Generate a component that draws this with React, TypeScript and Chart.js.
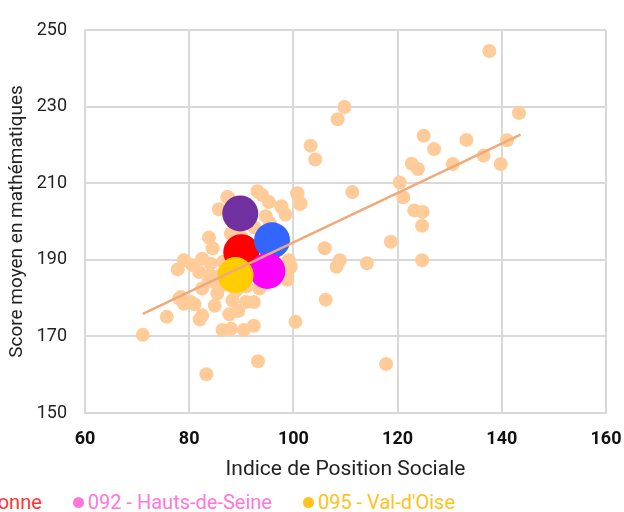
import React, { useEffect, useRef } from "react";
import { Chart, registerables } from "chart.js";

Chart.register(...registerables);

// IPS (Indice de Position Sociale) of each département
const ipsValues: number[] = [
  137.6, 143.3, 109.8, 108.5, 103.3, 104.2, 125.0, 127.0, 133.2, 141.0,
  136.5, 139.8, 130.6, 122.7, 123.9, 120.4, 121.1, 123.2, 124.8, 124.7,
  124.7, 118.7, 111.3, 100.8, 101.2, 106.0, 108.9, 108.3, 114.1, 97.7,
  98.5, 106.2, 100.4, 98.8, 93.2, 83.3, 117.8, 92.4, 90.5, 88.0,
  86.4, 92.4, 89.4, 87.7, 84.9, 71.1, 75.7, 82.0, 82.5, 79.0,
  81.0, 78.1, 80.3, 77.8, 80.6, 81.9, 83.8, 82.5, 85.4, 88.3,
  87.5, 85.7, 88.0, 83.8, 84.5, 79.0, 82.5, 84.1, 93.1, 94.0,
  95.3, 97.7, 100.7, 101.4, 94.7, 99.1, 99.5, 98.8, 87.3, 90.9,
  86.0, 87.0, 89.0, 91.0, 86.5, 92.0, 88.5, 85.0, 93.5, 90.0,
  97.0, 95.5, 92.5, 78.4, 84.0,
];
// Score moyen en mathématiques of each département
const scoreValues: number[] = [
  244.5, 228.3, 229.9, 226.7, 219.8, 216.2, 222.4, 218.9, 221.3, 221.2,
  217.2, 215.0, 215.0, 215.1, 213.7, 210.2, 206.3, 202.9, 202.5, 198.9,
  189.9, 194.7, 207.7, 207.4, 204.6, 193.0, 189.9, 188.2, 189.1, 204.0,
  201.8, 179.6, 173.8, 184.8, 163.5, 160.1, 162.8, 172.8, 171.7, 172.0,
  171.7, 179.0, 176.6, 175.8, 178.0, 170.4, 175.1, 174.4, 175.5, 178.5,
  178.4, 179.9, 179.0, 187.5, 188.6, 186.8, 184.6, 182.5, 181.2, 179.4,
  206.3, 203.2, 196.8, 195.8, 193.0, 189.9, 190.3, 189.0, 207.9, 206.9,
  205.1, 203.8, 207.3, 204.7, 201.4, 189.9, 188.2, 185.7, 206.4, 179.0,
  186.0, 183.5, 182.0, 183.0, 189.5, 187.0, 188.5, 184.0, 182.5, 196.0,
  192.5, 199.5, 198.5, 180.3, 186.0,
];

// Highlighted départements
const highlightNames: string[] = [
  "077 - Seine-et-Marne",
  "078 - Yvelines",
  "091 - Essonne",
  "092 - Hauts-de-Seine",
  "095 - Val-d'Oise",
];
const highlightIps: number[] = [89.8, 95.9, 90.0, 95.0, 88.9];
const highlightScores: number[] = [202.1, 195.1, 192.0, 187.1, 186.0];
const highlightColors: string[] = ["#7030A0", "#3366FF", "#FF0000", "#FF00FF", "#FFCC00"];
const legendTextColors: string[] = ["#9c6cc0", "#6f8fff", "#ff3333", "#ff77dd", "#ffc21a"];
const highlightOrder: number[] = [5, 3, 4, 2, 1];

// Trend line
const trendIps: number[] = [71.1, 143.6];
const trendScores: number[] = [175.9, 222.7];

const xTicks: number[] = [60, 80, 100, 120, 140, 160];
const yTicks: number[] = [150, 170, 190, 210, 230, 250];

const FONT = "Roboto, 'Noto Sans', sans-serif";

export default function App() {
  const canvasRef = useRef<HTMLCanvasElement | null>(null);

  useEffect(() => {
    document.body.style.margin = "0";
    const canvas = canvasRef.current;
    if (!canvas) return;

    const datasets: any[] = [];
    datasets.push({
      type: "line",
      label: "Tendance",
      data: trendIps.map((x, i) => ({ x, y: trendScores[i] })),
      borderColor: "#EFA97A",
      borderWidth: 2.5,
      pointRadius: 0,
      fill: false,
      order: 0,
    });
    highlightNames.forEach((name, i) => {
      datasets.push({
        type: "scatter",
        label: name,
        data: [{ x: highlightIps[i], y: highlightScores[i] }],
        backgroundColor: highlightColors[i],
        borderWidth: 0,
        pointRadius: 18,
        order: highlightOrder[i],
      });
    });
    datasets.push({
      type: "scatter",
      label: "Départements",
      data: ipsValues.map((x, i) => ({ x, y: scoreValues[i] })),
      backgroundColor: "#FFCC99",
      borderWidth: 0,
      pointRadius: 7,
      order: 10,
    });

    const chart = new Chart(canvas, {
      type: "scatter",
      data: { datasets },
      options: {
        animation: false,
        responsive: false,
        maintainAspectRatio: false,
        layout: { padding: { left: 0, right: 16, top: 30, bottom: 0 } },
        plugins: {
          legend: { display: false },
          tooltip: { enabled: false },
        },
        scales: {
          x: {
            type: "linear",
            min: xTicks[0],
            max: xTicks[xTicks.length - 1],
            afterBuildTicks: (scale: any) => {
              scale.ticks = xTicks.map((v) => ({ value: v }));
            },
            afterFit: (scale: any) => {
              scale.height = 72;
              scale.paddingLeft = 0;
              scale.paddingRight = 0;
            },
            grid: { color: "#d9d9d9", lineWidth: 2, drawTicks: false },
            border: { color: "#d9d9d9", width: 2 },
            ticks: {
              padding: 16,
              color: "#111",
              font: { family: FONT, size: 18, weight: "bold" },
            },
            title: {
              display: true,
              text: "Indice de Position Sociale",
              color: "#222",
              font: { family: FONT, size: 21 },
              padding: { top: 0, bottom: 3 },
            },
          },
          y: {
            type: "linear",
            min: yTicks[0],
            max: yTicks[yTicks.length - 1],
            afterBuildTicks: (scale: any) => {
              scale.ticks = yTicks.map((v) => ({ value: v }));
            },
            afterFit: (scale: any) => {
              scale.width = 85;
            },
            grid: { color: "#d9d9d9", lineWidth: 2, drawTicks: false },
            border: { color: "#d9d9d9", width: 2 },
            ticks: {
              padding: 18,
              color: "#222",
              font: { family: FONT, size: 18 },
            },
            title: {
              display: true,
              text: "Score moyen en mathématiques",
              color: "#222",
              font: { family: FONT, size: 19 },
              padding: { top: 6, bottom: 0 },
            },
          },
        },
      } as any,
    });
    return () => chart.destroy();
  }, []);

  return (
    <div style={{ position: "relative", width: 624, height: 512, overflow: "hidden", background: "#fff" }}>
      <canvas ref={canvasRef} width={624} height={485} style={{ position: "absolute", left: 0, top: 0 }} />
      <div style={{ position: "absolute", left: 0, top: 490, width: 624, height: 22, overflow: "hidden" }}>
        <div
          style={{
            position: "absolute",
            right: 169,
            top: 0,
            display: "flex",
            alignItems: "center",
            whiteSpace: "nowrap",
            fontFamily: FONT,
            fontSize: 20,
            lineHeight: "24px",
          }}
        >
          {highlightNames.map((name, i) => (
            <span
              key={name}
              style={{
                display: "inline-flex",
                alignItems: "center",
                marginLeft: i === 0 ? 0 : 31,
                color: legendTextColors[i],
              }}
            >
              <span
                style={{
                  display: "inline-block",
                  width: 11,
                  height: 11,
                  borderRadius: 6,
                  background: legendTextColors[i],
                  marginRight: 4,
                }}
              />
              {name}
            </span>
          ))}
        </div>
      </div>
    </div>
  );
}
